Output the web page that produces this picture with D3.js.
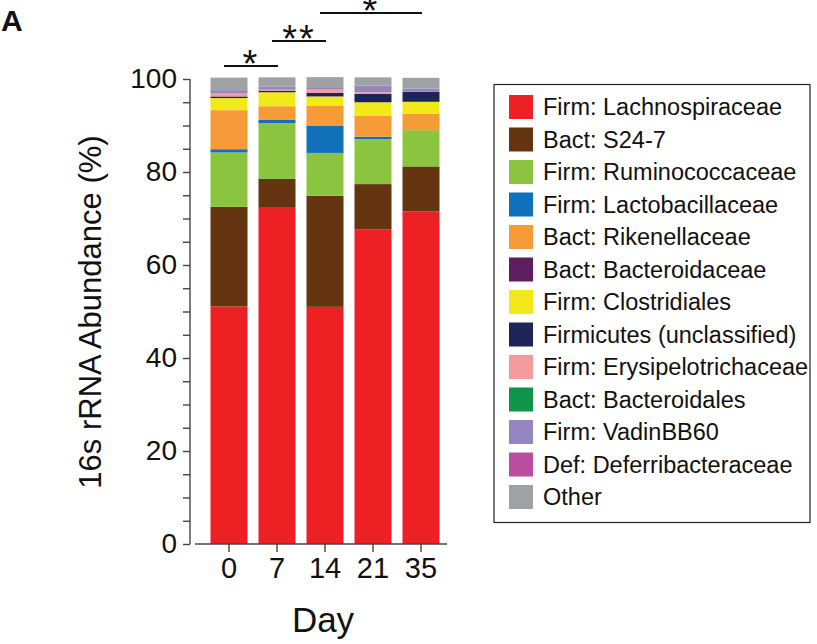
<!DOCTYPE html>
<html>
<head>
<meta charset="utf-8">
<script src="https://cdn.jsdelivr.net/npm/d3@7"></script>
<style>
  body { margin: 0; background: #fff; }
  text { font-family: "Liberation Sans", Arial, Helvetica, sans-serif; fill: #111; }
</style>
</head>
<body>
<div class="chart"></div>
<script>
var svgWidth = 817;
var svgHeight = 644;

// days (x categories)
var days = ["0", "7", "14", "21", "35"];

// taxa in stacking order (bottom -> top), same order as the legend
var taxa = [
    "Firm: Lachnospiraceae",
    "Bact: S24-7",
    "Firm: Ruminococcaceae",
    "Firm: Lactobacillaceae",
    "Bact: Rikenellaceae",
    "Bact: Bacteroidaceae",
    "Firm: Clostridiales",
    "Firmicutes (unclassified)",
    "Firm: Erysipelotrichaceae",
    "Bact: Bacteroidales",
    "Firm: VadinBB60",
    "Def: Deferribacteraceae",
    "Other"
];

var taxaColors = [
    "#ed2024", "#653511", "#8bc53f", "#1170ba", "#f79a38", "#5e1d5f",
    "#f2e91b", "#1f2456", "#f49b9b", "#0f9448", "#9386c1", "#b94ea0", "#a0a1a4"
];

// % abundance per taxon, one value per day
var lachno         = [51.1, 72.3, 51.0, 67.7, 71.5];
var s247           = [21.4,  6.2, 23.9,  9.7,  9.7];
var rumino         = [11.7, 12.0,  9.2,  9.7,  7.8];
var lacto          = [ 0.7,  0.7,  5.9,  0.5,  0.0];
var riken          = [ 8.4,  2.95, 4.2,  4.45, 3.5];
var bacteroidaceae = [ 0.0,  0.0,  0.0,  0.0,  0.0];
var clostridiales  = [ 2.6,  3.0,  2.05, 2.95, 2.6];
var firmUnclass    = [ 0.35, 0.35, 0.8,  1.8,  2.15];
var erysipelo      = [ 0.65, 0.2,  0.7,  0.35, 0.0];
var bacteroidales  = [ 0.0,  0.0,  0.0,  0.0,  0.0];
var vadin          = [ 0.7,  0.65, 0.5,  1.4,  0.7];
var deferri        = [ 0.0,  0.0,  0.0,  0.0,  0.0];
var other          = [ 2.7,  2.0,  2.15, 1.8,  2.3];

var seriesValues = [lachno, s247, rumino, lacto, riken, bacteroidaceae, clostridiales,
    firmUnclass, erysipelo, bacteroidales, vadin, deferri, other];

var yTicks = [0, 20, 40, 60, 80, 100];

// significance brackets: [from day, to day, label]
var sigPairs = [["0", "7", "*"], ["7", "14", "**"], ["14", "35", "*"]];

var svg = d3.select(".chart")
    .append("svg")
    .attr("width", svgWidth)
    .attr("height", svgHeight);

// table for d3.stack
var table = days.map(function(day, i) {
    var row = { day: day };
    taxa.forEach(function(t, k) { row[t] = seriesValues[k][i]; });
    return row;
});

var stacked = d3.stack().keys(taxa)(table);

var xScale = d3.scaleBand()
    .domain(days)
    .range([205, 445])
    .paddingInner(0.229)
    .paddingOuter(0.1146);

var yScale = d3.scaleLinear()
    .domain([0, 100])
    .range([544, 79]);

var color = d3.scaleOrdinal().domain(taxa).range(taxaColors);

// bars
svg.append("g")
    .selectAll("g")
    .data(stacked)
    .enter()
    .append("g")
    .attr("fill", d => color(d.key))
    .selectAll("rect")
    .data(d => d)
    .enter()
    .append("rect")
    .attr("x", d => xScale(d.data.day))
    .attr("y", d => yScale(d[1]))
    .attr("width", xScale.bandwidth())
    .attr("height", d => Math.max(0, yScale(d[0]) - yScale(d[1])));

// y axis (offset from the x axis)
var leftAxis = d3.axisLeft(yScale)
    .tickValues(d3.range(0, 101, 5))
    .tickSize(7)
    .tickPadding(6)
    .tickFormat(d => yTicks.indexOf(d) >= 0 ? d : "");

var yAxisG = svg.append("g")
    .attr("transform", "translate(190,0)")
    .call(leftAxis);
yAxisG.select(".domain").attr("d", "M0," + yScale(100) + "V" + yScale(0));
yAxisG.selectAll("line, path").attr("stroke", "#444").attr("stroke-width", 1.4);
yAxisG.selectAll("text")
    .attr("font-size", "28px")
    .attr("font-family", "'Liberation Sans', Arial, sans-serif")
    .attr("fill", "#111");

// x axis
var bottomAxis = d3.axisBottom(xScale)
    .tickSize(8)
    .tickSizeOuter(0)
    .tickPadding(5);

var xAxisG = svg.append("g")
    .attr("transform", "translate(0,544)")
    .call(bottomAxis);
xAxisG.select(".domain").attr("d", "M195,0H447");
xAxisG.selectAll("line, path").attr("stroke", "#444").attr("stroke-width", 1.4);
xAxisG.selectAll("text")
    .attr("font-size", "29px")
    .attr("font-family", "'Liberation Sans', Arial, sans-serif")
    .attr("fill", "#111");

// axis titles
svg.append("text")
    .attr("transform", "translate(101," + 312 + ") rotate(-90)")
    .attr("text-anchor", "middle")
    .attr("font-size", "31px")
    .text("16s rRNA Abundance (%)");

svg.append("text")
    .attr("x", 323)
    .attr("y", 632)
    .attr("text-anchor", "middle")
    .attr("font-size", "35px")
    .text("Day");

// panel letter
svg.append("text")
    .attr("x", 1)
    .attr("y", 31)
    .attr("font-size", "30px")
    .attr("font-weight", "bold")
    .text("A");

// significance brackets
var bracketY = [66, 41, 13];
sigPairs.forEach(function(p, i) {
    var x1 = xScale(p[0]) + xScale.bandwidth() / 2 - 5;
    var x2 = xScale(p[1]) + xScale.bandwidth() / 2 + 1;
    svg.append("line")
        .attr("x1", x1).attr("x2", x2)
        .attr("y1", bracketY[i]).attr("y2", bracketY[i])
        .attr("stroke", "#111")
        .attr("stroke-width", 2.2);
    svg.append("text")
        .attr("x", (x1 + x2) / 2)
        .attr("y", bracketY[i] + 11)
        .attr("text-anchor", "middle")
        .attr("font-size", "38px")
        .attr("letter-spacing", "2px")
        .text(p[2]);
});

// legend
var legend = svg.append("g");
legend.append("rect")
    .attr("x", 494)
    .attr("y", 84.5)
    .attr("width", 316)
    .attr("height", 438)
    .attr("fill", "none")
    .attr("stroke", "#222")
    .attr("stroke-width", 1.2);

var legendItems = legend.selectAll("g.item")
    .data(taxa)
    .enter()
    .append("g")
    .attr("class", "item")
    .attr("transform", (d, i) => `translate(509, ${95 + i * 32.5})`);

legendItems.append("rect")
    .attr("width", 24)
    .attr("height", 24)
    .attr("fill", d => color(d));

legendItems.append("text")
    .attr("x", 34)
    .attr("y", 12)
    .attr("dy", "0.36em")
    .attr("font-size", "23.5px")
    .text(d => d);
</script>
</body>
</html>
